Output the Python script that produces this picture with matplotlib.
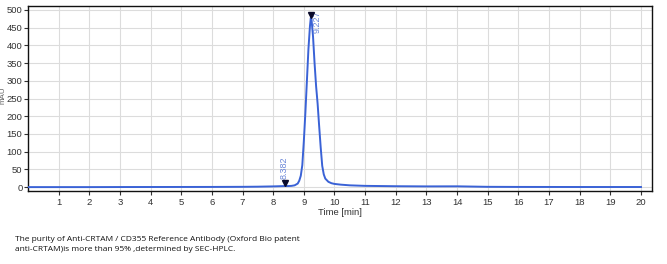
import matplotlib
matplotlib.use("Agg")
import matplotlib.pyplot as plt

# chromatogram
time_min = [0.0, 1.0, 2.0, 3.0, 4.0, 5.0, 6.0, 7.0, 7.5, 8.0, 8.2, 8.382, 8.5, 8.6, 8.7,
            8.8, 8.85, 8.9, 8.95, 9.0, 9.05, 9.1, 9.15, 9.2, 9.227, 9.25, 9.3, 9.35,
            9.4, 9.45, 9.5, 9.55, 9.6, 9.65, 9.7, 9.8, 9.9, 10.0, 10.2, 10.5, 11.0,
            11.5, 12.0, 13.0, 14.0, 14.5, 15.0, 16.0, 18.0, 20.0]
mau = [0.0, 0.0, 0.0, 0.2, 0.3, 0.4, 0.5, 0.8, 1.2, 2.0, 2.5, 3.0, 3.0, 3.5, 5.0,
       10.0, 18.0, 32.0, 62.0, 130.0, 210.0, 300.0, 390.0, 455.0, 478.0, 474.0, 425.0,
       350.0, 285.0, 235.0, 172.0, 112.0, 60.0, 36.0, 24.0, 15.0, 11.0, 9.0, 7.0, 5.0,
       3.5, 3.0, 2.5, 2.0, 2.2, 1.5, 0.8, 0.5, 0.3, 0.3]

peak_times = [8.382, 9.227]
peak_heights = [3.0, 478.0]
peak_labels = ["8.382", "9.227"]

xticks = list(range(1, 21))
yticks = list(range(0, 501, 50))

caption = ("The purity of Anti-CRTAM / CD355 Reference Antibody (Oxford Bio patent\n"
           "anti-CRTAM)is more than 95% ,determined by SEC-HPLC.")

plt.rcParams["font.family"] = ["Liberation Sans", "DejaVu Sans"]

fig = plt.figure(figsize=(6.67, 2.64), dpi=100)
fig.patch.set_facecolor("white")
ax = fig.add_axes([0.042, 0.2765, 0.9355, 0.7005])

line_color = "#3a62d6"
ax.plot(time_min, mau, color=line_color, lw=1.4, zorder=3)

ax.plot(peak_times, [h + 8 for h in peak_heights], linestyle="none", marker="v",
        color="#0a0a2a", markersize=5, zorder=4)
ax.text(peak_times[0] - 0.03, peak_heights[0] + 20, peak_labels[0], rotation=90,
        ha="center", va="bottom", color="#6a86d8", fontsize=6.5)
ax.text(peak_times[1] + 0.2, peak_heights[1] - 42, peak_labels[1], rotation=90,
        ha="center", va="bottom", color="#6a86d8", fontsize=6.5)

ax.set_xlim(0, 20.36)
ax.set_ylim(-11, 511)
ax.set_xticks(xticks)
ax.set_yticks(yticks)
ax.grid(True, color="#dcdcdc", lw=0.8, zorder=0)
ax.set_axisbelow(True)
ax.tick_params(labelsize=6.8, colors="#333333", length=3, width=0.8, pad=2)
ax.tick_params(axis="y", pad=1)
for s in ax.spines.values():
    s.set_color("#111111")
    s.set_linewidth(1.0)

ax.set_xlabel("Time [min]", fontsize=6.8, color="#333333", labelpad=1)
fig.text(0.0045, 0.64, "mAU", rotation=90, ha="center", va="center",
         fontsize=5.8, color="#666666")

fig.text(0.022, 0.04, caption, fontsize=6.0, color="#111111",
         family=["Open Sans", "DejaVu Sans"], va="bottom", linespacing=1.6)

fig.savefig("out.png", dpi=100, facecolor="white")
plt.close()
